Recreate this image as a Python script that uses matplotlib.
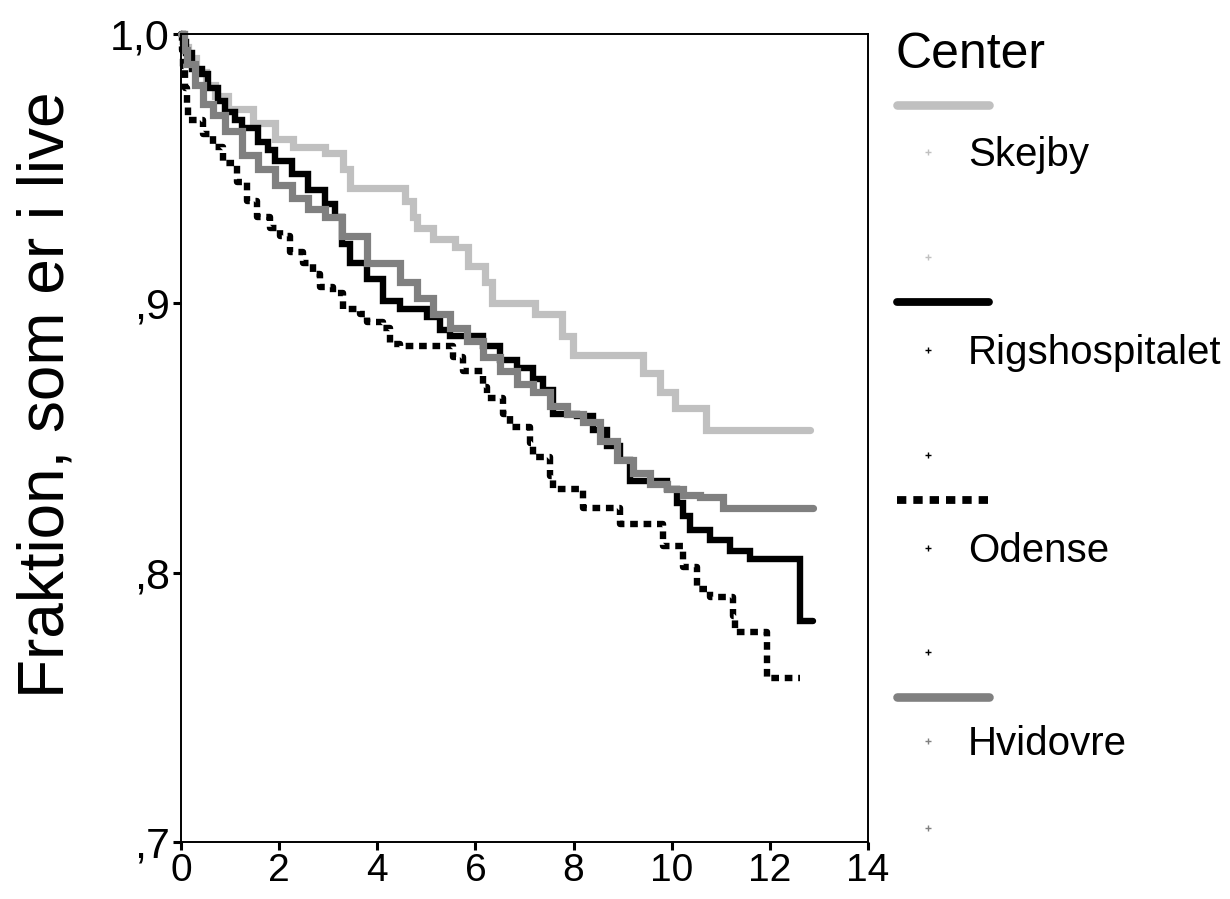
import matplotlib
matplotlib.use("Agg")
import matplotlib.pyplot as plt
from matplotlib.lines import Line2D

plt.rcParams['font.family'] = ['Liberation Sans', 'DejaVu Sans']

# Kaplan-Meier curves (time in years, fraction alive)
skejby_t = [0, 0.06, 0.15, 0.30, 0.50, 0.70, 0.96, 1.47, 1.92, 2.28, 2.93, 3.30, 3.44, 4.56, 4.73,
            4.81, 5.14, 5.58, 5.85, 6.20, 6.34, 7.21, 7.76, 7.99, 9.42, 9.76, 10.07, 10.70, 12.82]
skejby_s = [1.0, 0.995, 0.991, 0.986, 0.981, 0.977, 0.972, 0.967, 0.961, 0.958, 0.956, 0.950, 0.943, 0.938, 0.932,
            0.928, 0.924, 0.921, 0.914, 0.908, 0.900, 0.896, 0.888, 0.881, 0.874, 0.867, 0.861, 0.853, 0.853]

rigs_t = [0, 0.04, 0.10, 0.22, 0.43, 0.55, 0.75, 0.90, 1.10, 1.24, 1.57, 1.77, 1.92, 2.26, 2.59,
          2.93, 3.14, 3.28, 3.44, 3.79, 4.12, 4.46, 5.01, 5.28, 5.48, 6.15, 6.50, 6.85, 7.17, 7.38,
          7.58, 8.07, 8.40, 8.68, 8.95, 9.15, 9.90, 10.11, 10.23, 10.37, 10.78, 11.19, 11.60, 12.61, 12.88]
rigs_s = [1.0, 0.997, 0.993, 0.987, 0.985, 0.980, 0.975, 0.971, 0.968, 0.965, 0.960, 0.957, 0.953, 0.948, 0.942,
          0.937, 0.932, 0.922, 0.915, 0.909, 0.901, 0.898, 0.895, 0.890, 0.888, 0.884, 0.879, 0.876, 0.872, 0.868,
          0.859, 0.858, 0.853, 0.847, 0.842, 0.834, 0.831, 0.826, 0.821, 0.816, 0.812, 0.808, 0.805, 0.782, 0.782]

odense_t = [0, 0.02, 0.04, 0.08, 0.12, 0.14, 0.45, 0.65, 0.86, 1.14, 1.35, 1.55, 1.81, 2.02, 2.22,
            2.49, 2.69, 2.83, 3.10, 3.30, 3.65, 3.79, 4.12, 4.26, 4.46, 5.54, 5.75, 6.15, 6.24, 6.56,
            6.70, 7.11, 7.17, 7.52, 7.58, 8.19, 8.95, 9.82, 10.23, 10.52, 10.78, 11.25, 11.29, 11.94, 12.61]
odense_s = [1.0, 0.994, 0.988, 0.980, 0.974, 0.968, 0.963, 0.958, 0.952, 0.945, 0.938, 0.932, 0.928, 0.925, 0.919,
            0.915, 0.911, 0.906, 0.904, 0.898, 0.896, 0.893, 0.891, 0.885, 0.884, 0.880, 0.875, 0.869, 0.865, 0.859,
            0.854, 0.848, 0.843, 0.836, 0.831, 0.824, 0.818, 0.810, 0.802, 0.794, 0.791, 0.784, 0.778, 0.761, 0.761]

hvid_t = [0, 0.06, 0.12, 0.29, 0.45, 0.65, 0.90, 1.24, 1.57, 1.92, 2.26, 2.59, 2.93, 3.28, 3.79,
          4.46, 4.81, 5.14, 5.48, 5.83, 6.15, 6.50, 6.85, 7.17, 7.52, 7.87, 8.19, 8.54, 8.89, 9.21,
          9.56, 9.90, 10.23, 10.58, 11.05, 12.88]
hvid_s = [1.0, 0.994, 0.989, 0.981, 0.974, 0.970, 0.964, 0.955, 0.950, 0.944, 0.939, 0.935, 0.932, 0.925, 0.915,
          0.908, 0.902, 0.896, 0.891, 0.886, 0.880, 0.875, 0.870, 0.867, 0.862, 0.859, 0.856, 0.849, 0.842, 0.837,
          0.833, 0.831, 0.829, 0.828, 0.824, 0.824]

centers = ['Skejby', 'Rigshospitalet', 'Odense', 'Hvidovre']
x_ticks = [0, 2, 4, 6, 8, 10, 12, 14]
y_ticks = [0.7, 0.8, 0.9, 1.0]
y_tick_labels = [',7', ',8', ',9', '1,0']

styles = {
    'Skejby': dict(color='#c0c0c0', lw=5.2, ls='-'),
    'Rigshospitalet': dict(color='black', lw=4.6, ls='-'),
    'Odense': dict(color='black', lw=4.6, ls=(0, (1.2, 0.9))),
    'Hvidovre': dict(color='#808080', lw=5.2, ls='-'),
}
series = {
    'Skejby': (skejby_t, skejby_s),
    'Rigshospitalet': (rigs_t, rigs_s),
    'Odense': (odense_t, odense_s),
    'Hvidovre': (hvid_t, hvid_s),
}

W, H = 1230, 899
fig = plt.figure(figsize=(W / 100, H / 100), dpi=100)
ax = fig.add_axes([181 / W, 1 - 842 / H, (868 - 181) / W, (842 - 34) / H])

for name in centers:
    t, s = series[name]
    st = styles[name]
    ax.step(t, s, where='post', color=st['color'], lw=st['lw'], linestyle=st['ls'],
            solid_joinstyle='miter', solid_capstyle='round', dash_capstyle='butt', clip_on=False)

ax.set_xlim(0, 14)
ax.set_ylim(0.7, 1.0)
ax.set_xticks(x_ticks)
ax.set_yticks(y_ticks)
ax.set_yticklabels(y_tick_labels)
for sp in ax.spines.values():
    sp.set_linewidth(1.4)
ax.tick_params(direction='out', length=6, width=2.2, pad=2)
ax.tick_params(axis='x', labelsize=28)
ax.tick_params(axis='y', labelsize=31)
ax.set_ylabel('Fraktion, som er i live', fontsize=46)
ax.yaxis.set_label_coords(-0.152, 0.553)

# legend drawn by hand to the right of the plot, SPSS style
def fx(px):
    return px / W


def fy(py):
    return 1 - py / H


fig.text(fx(895), fy(68), 'Center', fontsize=36, va='baseline', ha='left')
legend_rows = [(105, 152, 257), (302, 350, 455), (500, 548, 652), (697, 741, 828)]
for name, (line_y, label_y, mark_y) in zip(centers, legend_rows):
    st = styles[name]
    fig.add_artist(Line2D([fx(897), fx(989)], [fy(line_y), fy(line_y)], transform=fig.transFigure,
                          color=st['color'], lw=st['lw'] + 1, linestyle=st['ls'],
                          solid_capstyle='round', dash_capstyle='butt'))
    for my in (label_y, mark_y):
        fig.add_artist(Line2D([fx(928)], [fy(my)], transform=fig.transFigure, marker='+',
                              markersize=4, mew=1, color=st['color'], linestyle='none'))
    fig.text(fx(968), fy(label_y + 14), name, fontsize=29, va='baseline', ha='left')

fig.savefig('out.png', dpi=100)
